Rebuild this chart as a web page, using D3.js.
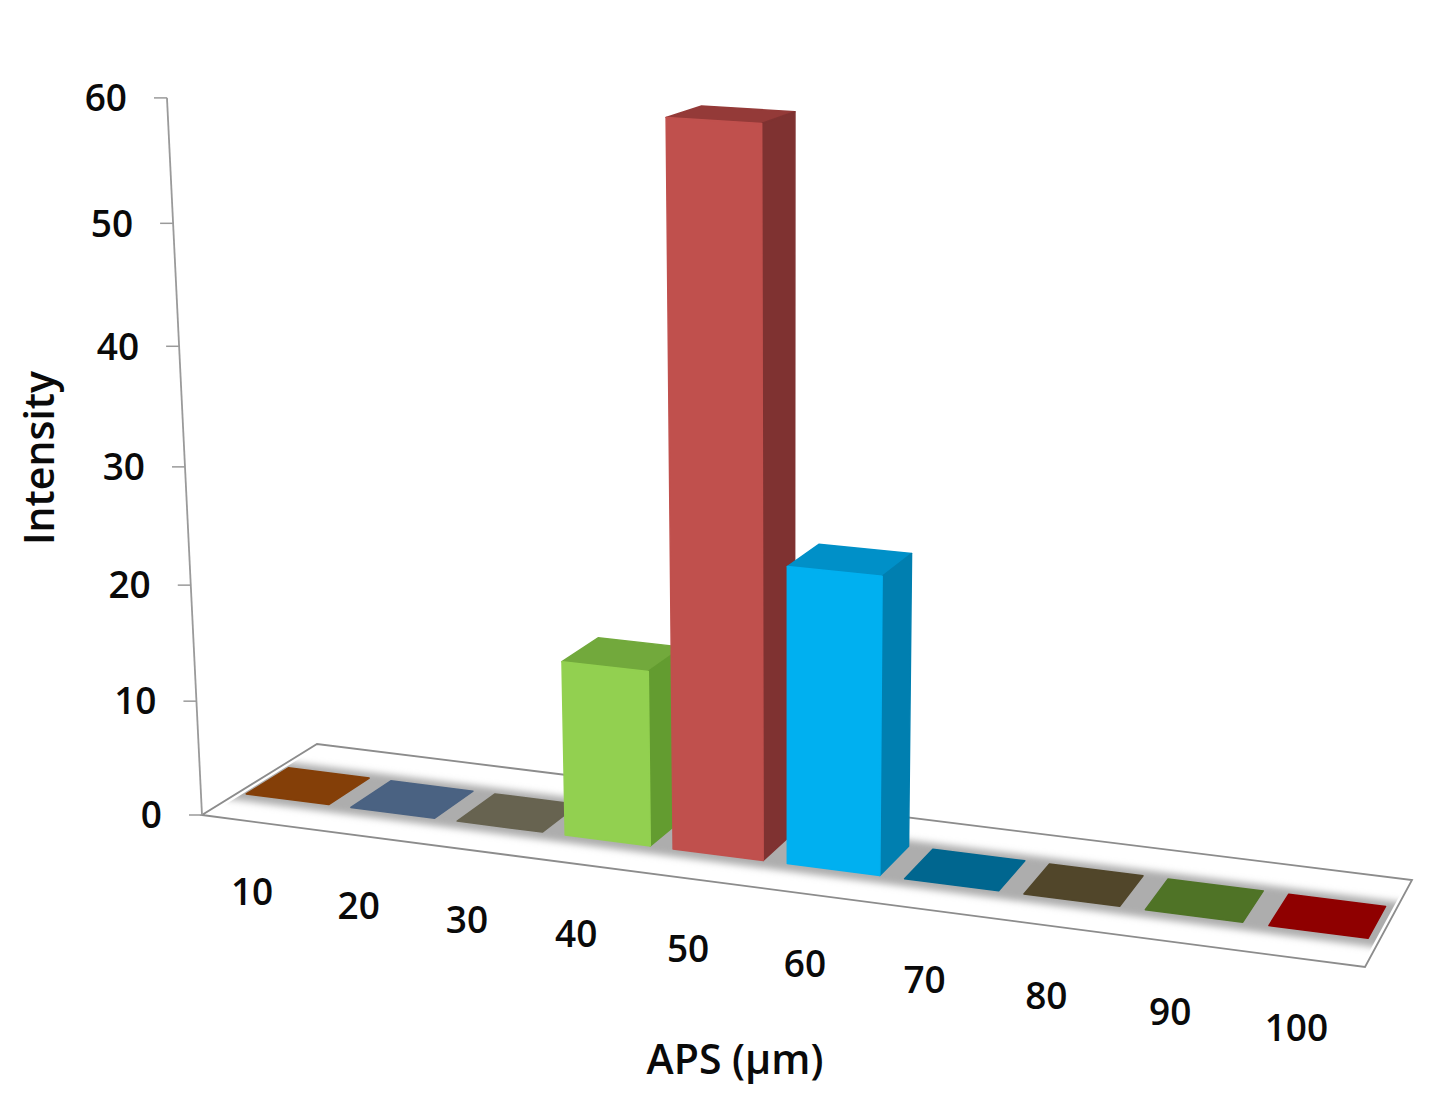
<!DOCTYPE html>
<html><head><meta charset="utf-8">
<script src="https://cdn.jsdelivr.net/npm/d3@7"></script>
<style>html,body{margin:0;background:#fff}svg{display:block}text{font-family:"Open Sans",sans-serif;font-weight:600;fill:#0a0a0a}</style>
</head><body><svg id="c" width="1445" height="1113"></svg>
<script>
const categories = ["10","20","30","40","50","60","70","80","90","100"];
const intensity = [0,0,0,15,60,25,0,0,0,0];
const yTicks = [0,10,20,30,40,50,60];
const frontColors = ["#843f08","#4a6282","#676350","#92d050","#c0504d","#00b0f0","#00668f","#51462a","#4f7326","#8f0000"];
const sideColors  = ["#843f08","#4a6282","#676350","#639c30","#7f3231","#007fb0","#00668f","#51462a","#4f7326","#8f0000"];
const topColors   = ["#843f08","#4a6282","#676350","#72a93c","#943a38","#0090c8","#00668f","#51462a","#4f7326","#8f0000"];

// perspective camera fitted to the floor plate
const corners = [[202,815],[1365,967],[1412,880],[317,744]];
const vertVP = [787,12790];
function homography(q){
  const [[x0,y0],[x1,y1],[x2,y2],[x3,y3]] = q;
  const dx1=x1-x2, dy1=y1-y2, dx2=x3-x2, dy2=y3-y2, sx=x0-x1+x2-x3, sy=y0-y1+y2-y3;
  const det=dx1*dy2-dx2*dy1, g=(sx*dy2-dx2*sy)/det, h=(dx1*sy-sx*dy1)/det;
  return {a:x1-x0+g*x1,b:x3-x0+h*x3,c:x0,d:y1-y0+g*y1,e:y3-y0+h*y3,f:y0,g,h};
}
const H = homography(corners);
const rise = d3.scaleLinear().domain([0,60]).range([0,0.0565]);
function project(u,v,val){
  const W = 1+H.g*u+H.h*v;
  const x = (H.a*u+H.b*v+H.c)/W, y = (H.d*u+H.e*v+H.f)/W;
  const s = rise(val||0)/(W*(1-0.02*u));
  return [vertVP[0]+(x-vertVP[0])/(1-s), vertVP[1]+(y-vertVP[1])/(1-s)];
}
const uBand = d3.scaleBand().domain(categories).range([-0.0105,0.9895]).paddingInner(0.21).paddingOuter(0.105);
// small correction of the plate's depth axis
const uWarp = d3.scaleLinear().domain([0,0.3,0.4,0.5,0.9,1]).range([0.008,0.304,0.401,0.502,0.91,1.012]);
const vFront = 0.298, vBack = 0.665;

const svg = d3.select("#c");
const poly = d3.line().curve(d3.curveLinearClosed);
const defs = svg.append("defs");
defs.append("filter").attr("id","soft").attr("x","-5%").attr("y","-50%").attr("width","110%").attr("height","200%")
  .append("feGaussianBlur").attr("stdDeviation",3.5);
defs.append("clipPath").attr("id","plate").append("path")
  .attr("d",poly([[0.005,0],[0.997,0],[0.997,1],[0.005,1]].map(p=>project(p[0],p[1],0))));

// floor plate
svg.append("path").attr("d",poly(corners)).attr("fill","#fff").attr("stroke","#8c8c8c").attr("stroke-width",1.8);
// shadow strip
svg.append("g").attr("clip-path","url(#plate)").append("path")
  .attr("d",poly([[-0.05,0.215],[1.05,0.215],[1.05,0.735],[-0.05,0.735]].map(p=>project(p[0],p[1],0))))
  .attr("fill","#adadad").attr("filter","url(#soft)");

// y axis
const axis = svg.append("g");
axis.append("line").attr("x1",project(0,0,0)[0]).attr("y1",project(0,0,0)[1])
  .attr("x2",project(0,0,60)[0]).attr("y2",project(0,0,60)[1]).attr("stroke","#9a9a9a").attr("stroke-width",1.8);
const tick = axis.selectAll("g").data(yTicks).join("g")
  .attr("transform",d=>`translate(${project(0,0,d)})`);
tick.append("line").attr("x1",-13).attr("x2",0).attr("stroke","#9a9a9a").attr("stroke-width",1.5);
tick.append("text").attr("x",-40).attr("dy","0.36em").attr("text-anchor","end").attr("font-size",37).text(d=>d);

// bars, left to right
const bars = svg.append("g").attr("stroke-width",1.5).attr("stroke-linejoin","round").selectAll("g").data(categories).join("g");
bars.each(function(cat,i){
  const g = d3.select(this), u0 = uWarp(uBand(cat)), u1 = uWarp(uBand(cat)+uBand.bandwidth()), val = intensity[i];
  g.append("path").attr("fill",topColors[i]).attr("stroke",topColors[i])
   .attr("d",poly([[u0,vFront],[u1,vFront],[u1,vBack],[u0,vBack]].map(p=>project(p[0],p[1],val))));
  if(val>0){
    g.append("path").attr("fill",sideColors[i]).attr("stroke",sideColors[i])
     .attr("d",poly([project(u1,vFront,0),project(u1,vBack,0),project(u1,vBack,val),project(u1,vFront,val)]));
    g.append("path").attr("fill",frontColors[i]).attr("stroke",frontColors[i])
     .attr("d",poly([project(u0,vFront,0),project(u1,vFront,0),project(u1,vFront,val),project(u0,vFront,val)]));
  }
});

// category labels
svg.append("g").selectAll("text").data(categories).join("text")
  .attr("transform",d=>{const p=project(0.995*uWarp(uBand(d)+uBand.bandwidth()/2),0,0);return `translate(${p[0]},${p[1]+70})`;})
  .attr("dy","0.36em").attr("text-anchor","middle").attr("font-size",37).text(d=>d);

svg.append("text").attr("x",735).attr("y",1059).attr("dy","0.36em").attr("text-anchor","middle").attr("font-size",41).text("APS (µm)");
svg.append("text").attr("transform","translate(39,458) rotate(-90)").attr("dy","0.36em").attr("text-anchor","middle").attr("font-size",41).text("Intensity");
</script></body></html>
